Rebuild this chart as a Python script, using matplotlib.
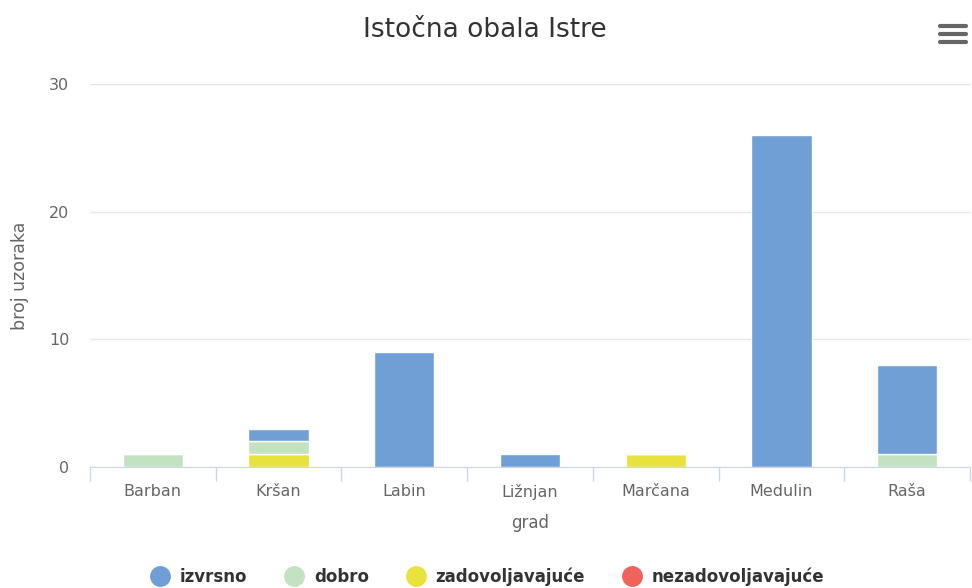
import matplotlib
matplotlib.use("Agg")
import matplotlib.pyplot as plt
from matplotlib.lines import Line2D
import numpy as np

categories = ["Barban", "Kršan", "Labin", "Ližnjan", "Marčana", "Medulin", "Raša"]
izvrsno = [0, 1, 9, 1, 0, 26, 7]
dobro = [1, 1, 0, 0, 0, 0, 1]
zadovoljavajuce = [0, 1, 0, 0, 1, 0, 0]
nezadovoljavajuce = [0, 0, 0, 0, 0, 0, 0]

series_names = ["izvrsno", "dobro", "zadovoljavajuće", "nezadovoljavajuće"]
colors = ["#709fd6", "#c3e2c1", "#e8e23c", "#ef635c"]

fig = plt.figure(figsize=(9.72, 5.88), dpi=100)
ax = fig.add_axes([90/972, 1-467/588, 880/972, (467-84)/588])

x = np.arange(len(categories))
bottom = np.zeros(len(categories))
# stack bottom-up: last series at the bottom (Highcharts order)
stack = list(zip(series_names, [izvrsno, dobro, zadovoljavajuce, nezadovoljavajuce], colors))
for name, vals, col in reversed(stack):
    vals = np.array(vals, dtype=float)
    ax.bar(x, vals, bottom=bottom, width=0.48, color=col, edgecolor="white",
           linewidth=1, zorder=3)
    bottom += vals

ax.set_xlim(-0.5, len(categories) - 0.5)
ax.set_ylim(0, 30)
ax.set_yticks([0, 10, 20, 30])
ax.grid(axis="y", color="#e6e6e6", linewidth=1, zorder=0)
ax.set_axisbelow(True)
for s in ["top", "right", "left"]:
    ax.spines[s].set_visible(False)
ax.spines["bottom"].set_color("#ccd6eb")
ax.spines["bottom"].set_zorder(4)
ax.tick_params(axis="y", length=0, labelsize=11.5, labelcolor="#666666", pad=15)
ax.tick_params(axis="x", length=0, labelsize=11.5, labelcolor="#666666", pad=12)
ax.set_xticks(x)
ax.set_xticklabels(categories)
# category separator ticks
ax.set_xticks(np.arange(-0.5, len(categories), 1), minor=True)
ax.tick_params(axis="x", which="minor", length=10, color="#ccd6eb", width=1)

ax.set_xlabel("grad", fontsize=12, color="#666666", labelpad=10)
ax.set_ylabel("broj uzoraka", fontsize=12.5, color="#666666", labelpad=14)

fig.text(485/972, 1-30/588, "Istočna obala Istre", ha="center", va="center",
         fontsize=19, color="#333333")

# legend
handles = [Line2D([0], [0], marker="o", linestyle="none", markersize=14,
                  markerfacecolor=c, markeredgecolor=c) for c in colors]
leg = fig.legend(handles, series_names, loc="center", bbox_to_anchor=(488/972, 1-577/588),
                 ncol=4, frameon=False, handletextpad=0.7, columnspacing=2.3,
                 prop={"weight": "bold", "size": 12}, handlelength=1.0)
for t in leg.get_texts():
    t.set_color("#333333")

# menu icon
for yy in [26, 34, 42]:
    fig.add_artist(Line2D([940/972, 966/972], [1-yy/588, 1-yy/588],
                          color="#666666", linewidth=3.0, solid_capstyle="round"))

fig.savefig("out.png", dpi=100)
